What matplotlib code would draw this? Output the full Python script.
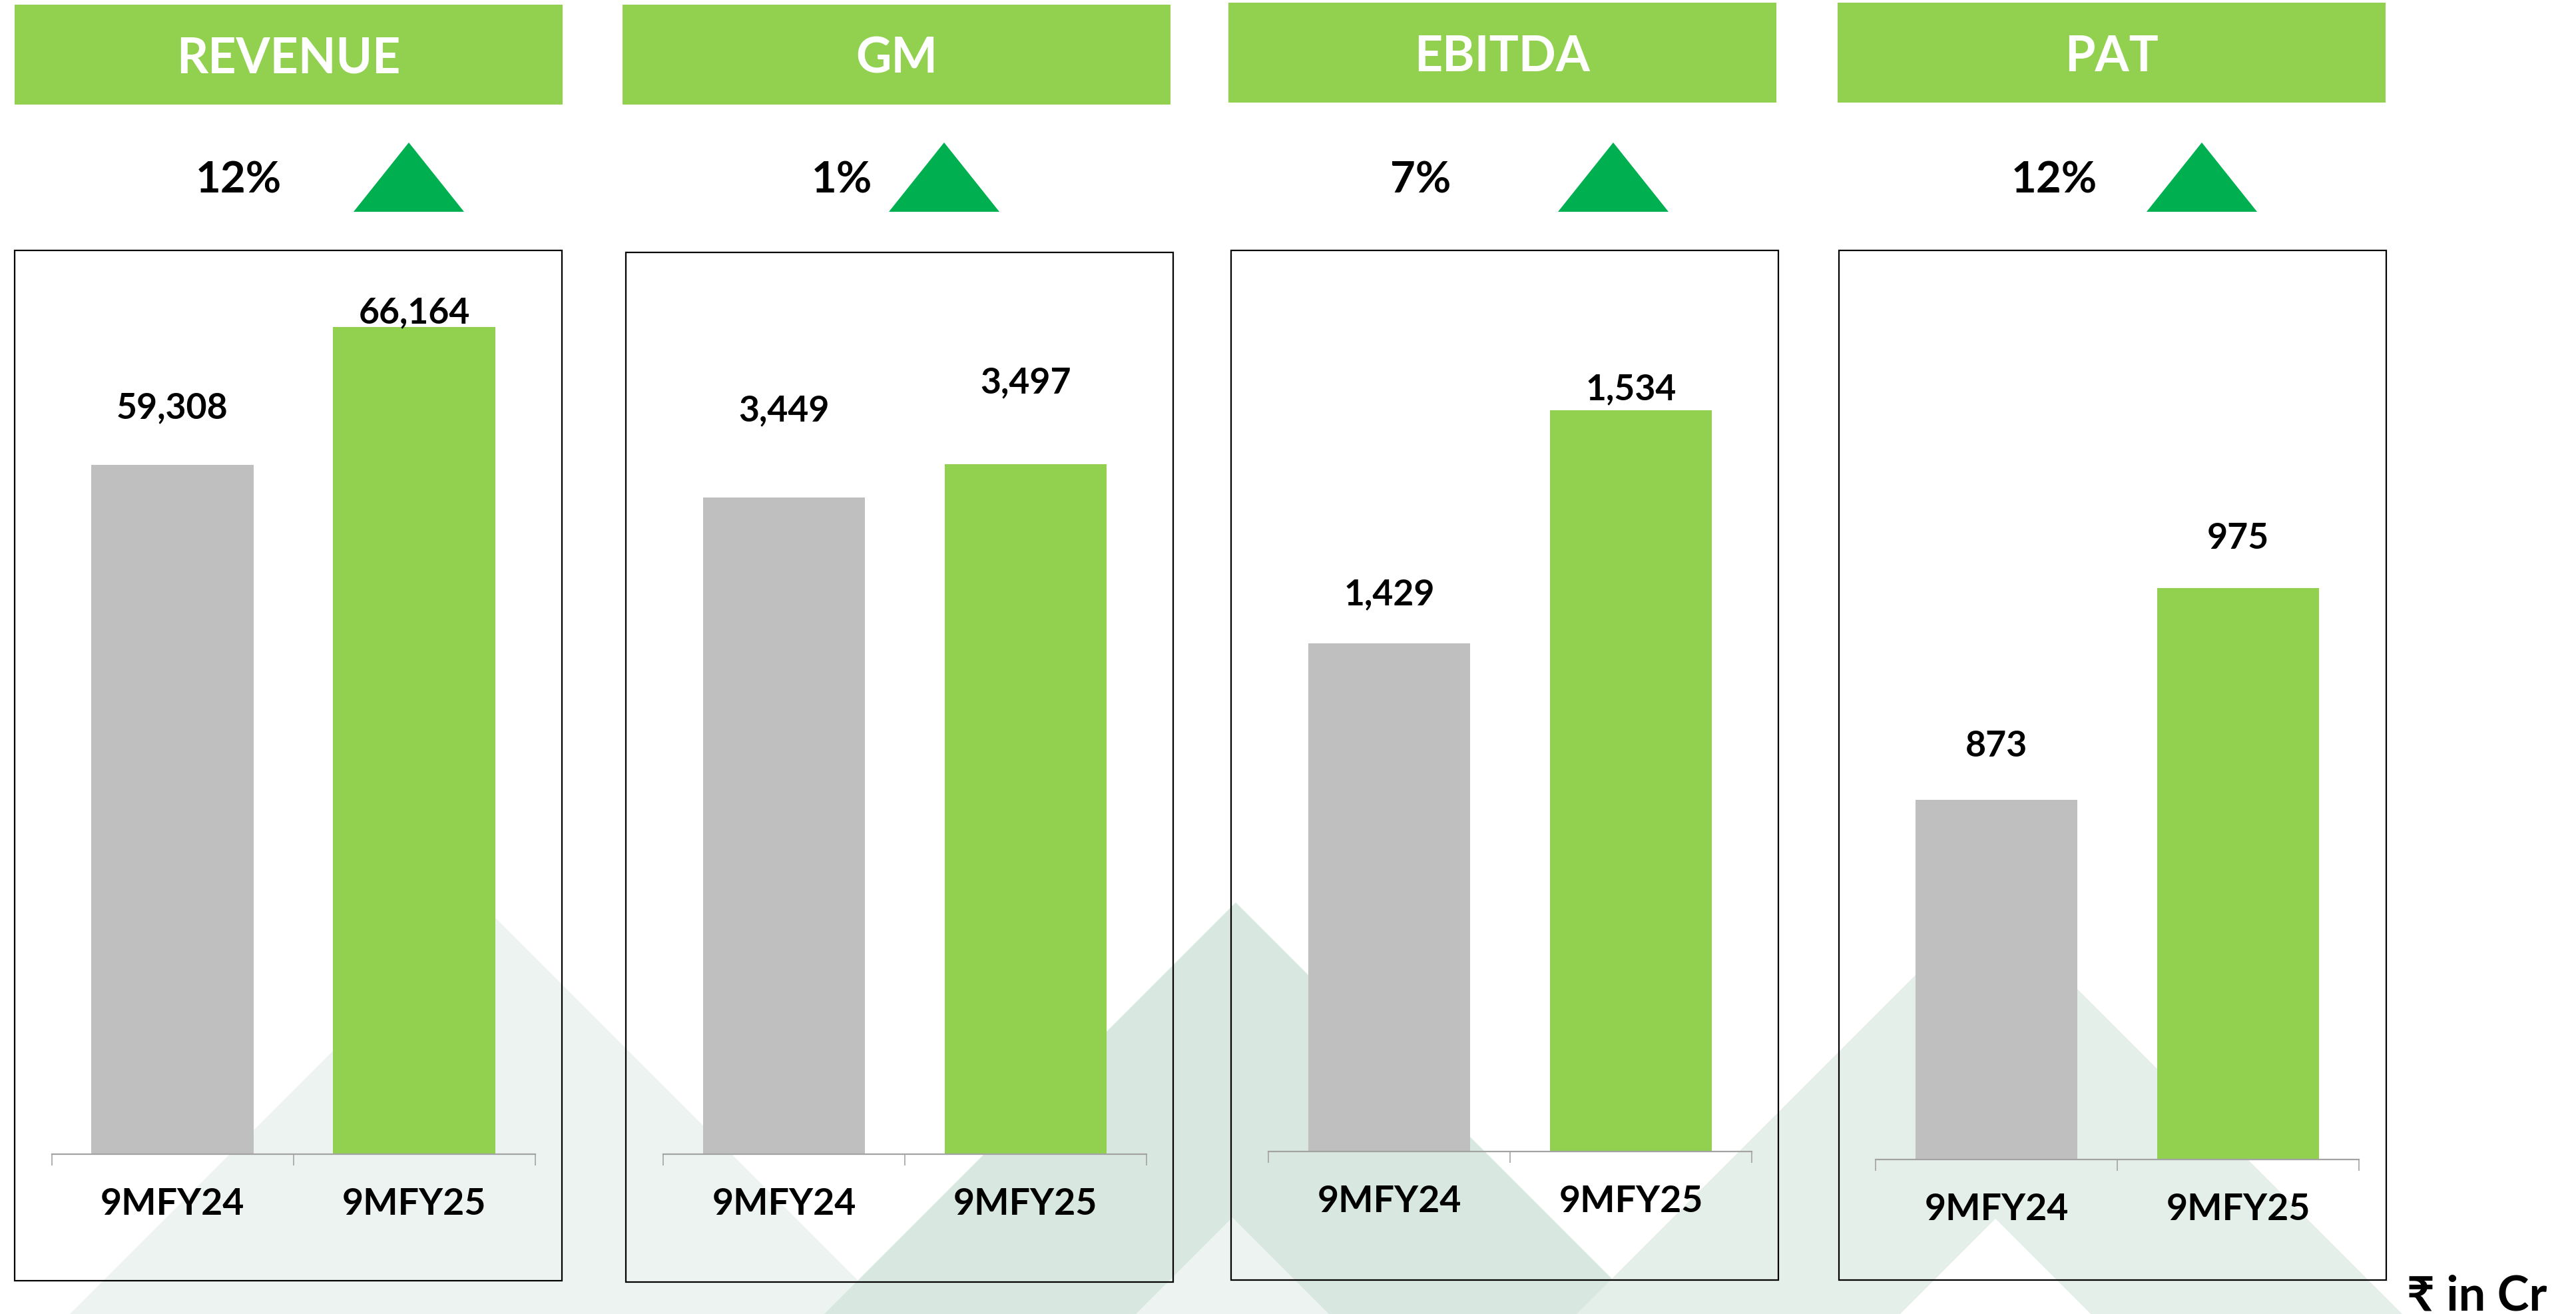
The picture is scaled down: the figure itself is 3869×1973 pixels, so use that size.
import matplotlib
matplotlib.use('Agg')
import matplotlib.pyplot as plt
from matplotlib.patches import Rectangle, Polygon

# Chart data
metrics = ['REVENUE', 'GM', 'EBITDA', 'PAT']
periods = ['9MFY24', '9MFY25']
fy24 = [59308, 3449, 1429, 873]
fy25 = [66164, 3497, 1534, 975]
growth = ['12%', '1%', '7%', '12%']
unit_note = '₹ in Cr'

# Layout (pixels of the 3869x1974 canvas)
W, H = 3869, 1974
GREEN = '#92d050'
GREY = '#bfbfbf'
ARROW = '#00b050'
AXIS = '#a3a3a3'

header_x = [22, 935, 1845, 2760]
header_y = [8, 8, 5, 5]
box_x = [22, 940, 1849, 2762]
box_top = [377, 380, 377, 377]
box_bottom = [1924, 1926, 1923, 1923]
pct_x = [358, 1264, 2134, 3085]
arrow_x = [614, 1418, 2423, 3307]
axis_left = [77.5, 996, 1905, 2817]
axis_base = [1734, 1734, 1730, 1742]
axis_top = [376, 383, 397, 338]
ylims = [(25000, 70000), (2500, 3800), (1200, 1600), (700, 1150)]
label_gap = [(70, 6), (115, 108), (59, 17), (66, 60)]

plt.rcParams['font.family'] = ['Lato', 'DejaVu Sans']

fig = plt.figure(figsize=(W / 100, H / 100), dpi=100)
fig.patch.set_facecolor('white')

# Background layer: decoration, headers, boxes
bg = fig.add_axes([0, 0, 1, 1])
bg.set_xlim(0, W)
bg.set_ylim(H, 0)
bg.axis('off')


def tri(cx, top, color, z):
    depth = 900
    bg.add_patch(Polygon([(cx - depth, top + depth), (cx, top), (cx + depth, top + depth)],
                         closed=True, facecolor=color, edgecolor='none', zorder=z))


# faint chevrons behind the charts
tri(722, 1357, '#edf3f0', 0)
tri(1856, 1356, '#d8e8e0', 1)
tri(1851, 1829, '#edf3f0', 1.1)
tri(2988, 1354, '#e5efe9', 1.2)
tri(2997, 1831, 'white', 1.3)

for i, name in enumerate(metrics):
    # green header
    bg.add_patch(Rectangle((header_x[i], header_y[i]), 823, 150,
                           facecolor=GREEN, edgecolor='none', zorder=3))
    bg.text(header_x[i] + 411.5, header_y[i] + 102, name, color='white',
            fontsize=53, fontweight='bold', ha='center', va='baseline', zorder=4)

    # growth figure and arrow
    bg.text(pct_x[i], 289, growth[i], fontsize=47, fontweight='bold',
            ha='center', va='baseline', zorder=4)
    ax_ = arrow_x[i]
    bg.add_patch(Polygon([(ax_ - 83, 319), (ax_, 215), (ax_ + 83, 319)], closed=True,
                         facecolor=ARROW, edgecolor='none', zorder=4))

    # panel frame
    bg.add_patch(Rectangle((box_x[i], box_top[i]), 822, box_bottom[i] - box_top[i],
                           facecolor='none', edgecolor='black', linewidth=1.6, zorder=5))

    # bar chart
    h = axis_base[i] - axis_top[i]
    ax = fig.add_axes([axis_left[i] / W, 1 - axis_base[i] / H, 726 / W, h / H])
    ax.set_facecolor('none')
    vals = [fy24[i], fy25[i]]
    ax.bar([0, 1], vals, width=0.67, color=[GREY, GREEN], zorder=2)
    ax.set_xlim(-0.5, 1.5)
    ax.set_ylim(*ylims[i])
    for s in ['top', 'right', 'left']:
        ax.spines[s].set_visible(False)
    ax.spines['bottom'].set_color(AXIS)
    ax.spines['bottom'].set_linewidth(1.6)
    ax.set_yticks([])
    ax.set_xticks([0, 1])
    ax.set_xticklabels(periods, fontsize=40, fontweight='bold')
    ax.tick_params(axis='x', which='major', length=0, pad=35)
    ax.set_xticks([-0.5, 0.5, 1.5], minor=True)
    ax.tick_params(axis='x', which='minor', length=12, width=1.2, color=AXIS)

    for j, v in enumerate(vals):
        ax.annotate(f'{v:,}', xy=(j, v), xytext=(0, label_gap[i][j]),
                    textcoords='offset pixels', ha='center', va='baseline',
                    fontsize=38.5, fontweight='bold', annotation_clip=False)

# unit note
bg.text(3615, 1968, unit_note, fontsize=52, fontweight='bold',
        ha='left', va='baseline', zorder=6)

fig.savefig('out.png', dpi=100)
